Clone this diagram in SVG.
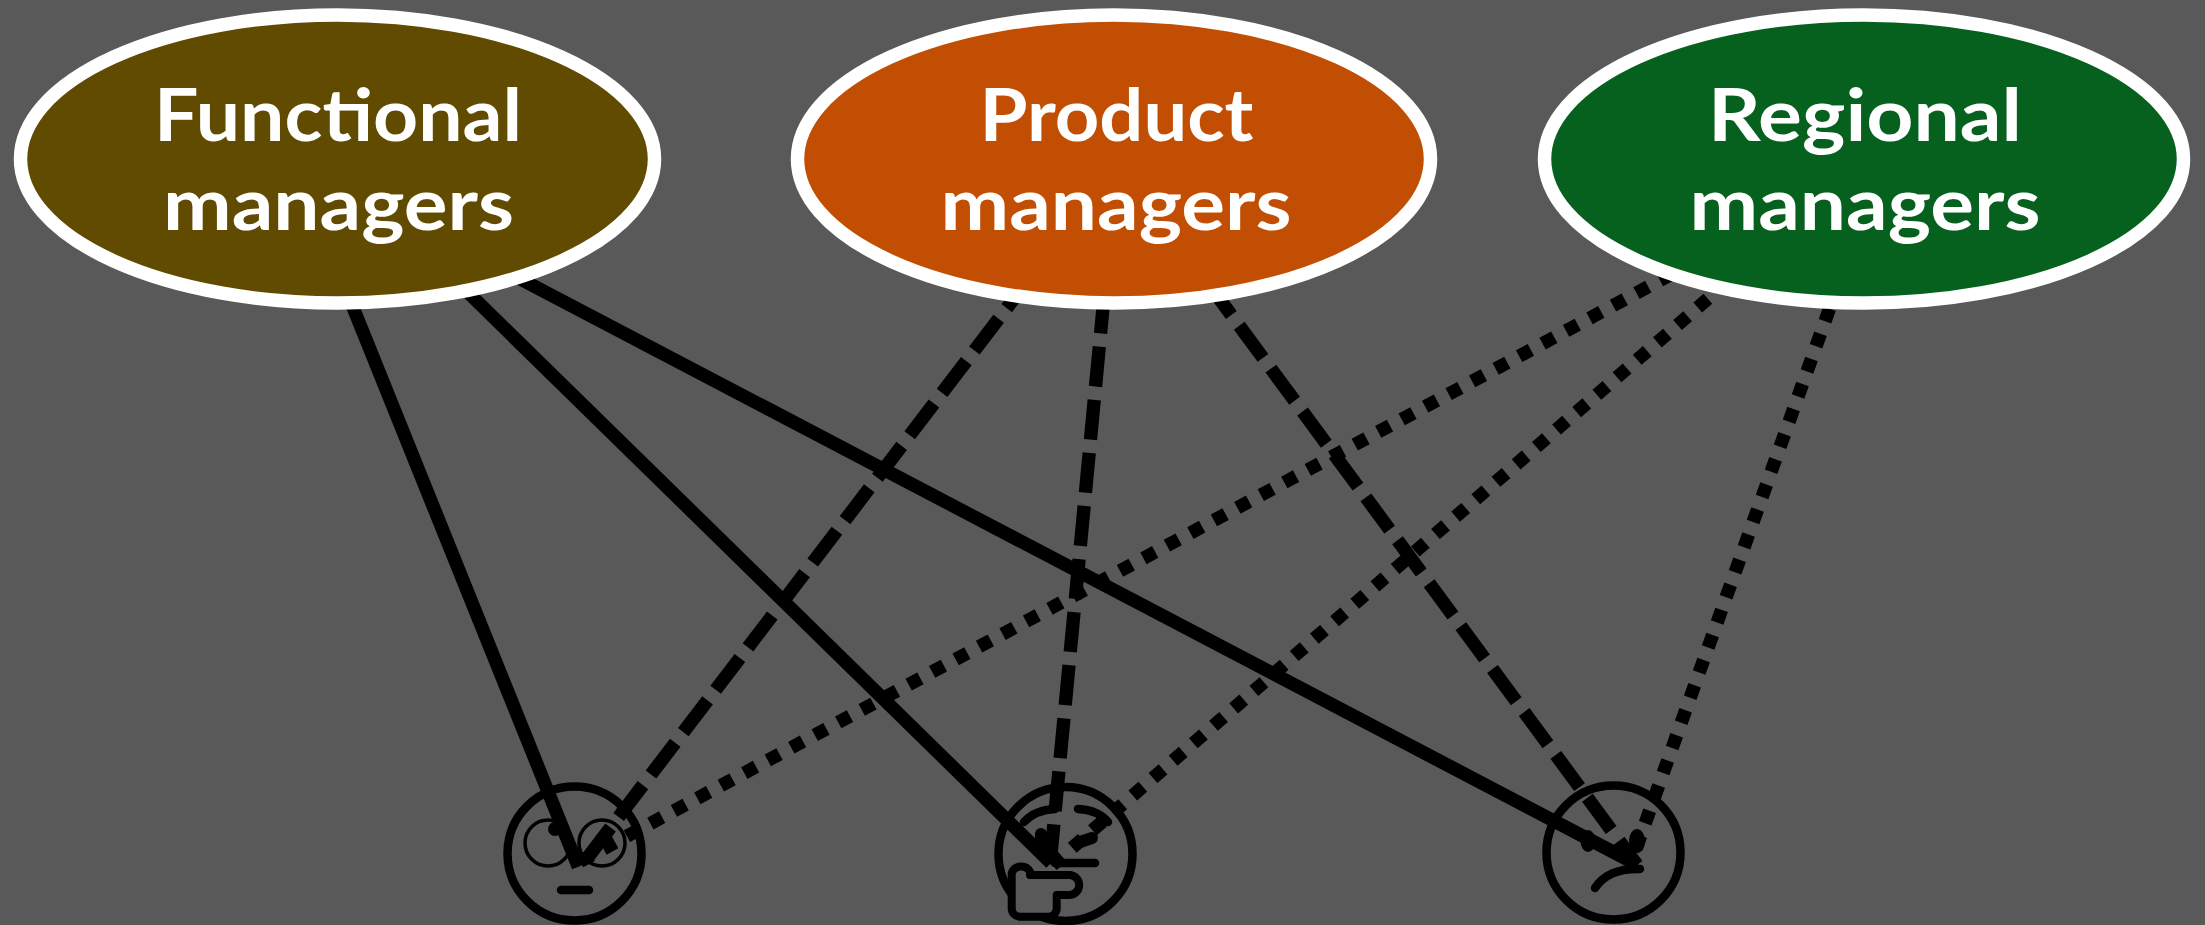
<svg xmlns="http://www.w3.org/2000/svg" width="2205" height="925" viewBox="0 0 2205 925">
<style>
.bg{fill:#595959}
.c{fill:none;stroke:#000;stroke-width:13.33}
.dash{stroke-dasharray:40 13.33}
.dot{stroke-dasharray:13.33 13.33}
.m{fill:#fff;stroke:#fff;stroke-width:0}
.n{stroke:#fff;stroke-width:13.5}
.t{font-family:"Lato","Open Sans",sans-serif;font-weight:700;font-size:73px;fill:#fff;text-anchor:middle}
.f{fill:none;stroke:#000;stroke-width:8.5;stroke-linecap:round}
.k{fill:#000}
</style>
<rect class="bg" x="0" y="0" width="2205" height="925"/>
<g id="face-1">
<circle class="f" cx="574.5" cy="853.5" r="67"/>
<circle class="f" style="stroke-width:3.5" cx="548" cy="843" r="23"/>
<circle class="f" style="stroke-width:3.5" cx="602" cy="843" r="23"/>
<circle class="k" cx="555" cy="829" r="7"/>
<line class="f" x1="561" y1="890" x2="589" y2="890"/>
</g>
<g id="face-2">
<circle class="f" cx="1065.5" cy="854" r="67"/>
<path class="f" d="M1024 822Q1035 810 1055 809"/>
<path class="f" d="M1078 809Q1098 810 1108 822"/>
<line class="f" style="stroke-width:12" x1="1041" y1="834" x2="1041" y2="846"/>
<line class="f" style="stroke-width:12" x1="1080" y1="842" x2="1092" y2="838"/>
<line class="f" x1="1055" y1="863" x2="1095" y2="863"/>
</g>
<g id="face-3">
<circle class="f" cx="1613.5" cy="852.5" r="67"/>
<ellipse class="k" cx="1588" cy="841" rx="7.5" ry="11"/>
<ellipse class="k" cx="1637" cy="841" rx="8" ry="12"/>
<path class="f" d="M1595 888Q1608 868 1640 869"/>
</g>
<g id="connectors">
<line class="c" x1="338" y1="270" x2="578.3" y2="866.7"/>
<line class="c" x1="440" y1="265" x2="1051" y2="863"/>
<line class="c" x1="490" y1="263" x2="1638" y2="865"/>
<line class="c dash" x1="1031" y1="276.3" x2="582" y2="865"/>
<line class="c dash" x1="1109.4" y1="240.5" x2="1049.8" y2="867"/>
<line class="c dash" x1="1207.6" y1="282.8" x2="1637" y2="865"/>
<line class="c dot" x1="1671.7" y1="274.1" x2="577.4" y2="862.8"/>
<line class="c dot" x1="1728" y1="281.4" x2="1052.3" y2="865"/>
<line class="c dot" x1="1838.5" y1="283.6" x2="1632" y2="860"/>
</g>
<g id="hand">
<path d="M1011.7 873.3A10 10 0 0 1 1030 871.7V875H1070A10 10 0 0 1 1068.3 895H1056.7V908.3A8.4 8.4 0 0 1 1048.3 916.7H1020A8.3 8.3 0 0 1 1011.7 908.3Z" fill="#595959" stroke="#000" stroke-width="8" stroke-linejoin="round"/>
</g>
<g id="node-functional">
<ellipse class="n" fill="#614b00" cx="337.5" cy="159" rx="317" ry="144"/>
<text class="t" x="338" y="141" textLength="368" lengthAdjust="spacingAndGlyphs">Functional</text>
<text class="t" x="338.5" y="230" textLength="351" lengthAdjust="spacingAndGlyphs">managers</text>
</g>
<g id="node-product">
<ellipse class="n" fill="#c24e03" cx="1114" cy="159" rx="316.5" ry="144"/>
<text class="t" x="1116.5" y="141" textLength="274" lengthAdjust="spacingAndGlyphs">Product</text>
<text class="t" x="1116" y="230" textLength="351" lengthAdjust="spacingAndGlyphs">managers</text>
</g>
<g id="node-regional">
<ellipse class="n" fill="#07611e" cx="1864" cy="159" rx="319.5" ry="144"/>
<text class="t" x="1865" y="141" textLength="314" lengthAdjust="spacingAndGlyphs">Regional</text>
<text class="t" x="1865" y="230" textLength="351" lengthAdjust="spacingAndGlyphs">managers</text>
</g>
</svg>
